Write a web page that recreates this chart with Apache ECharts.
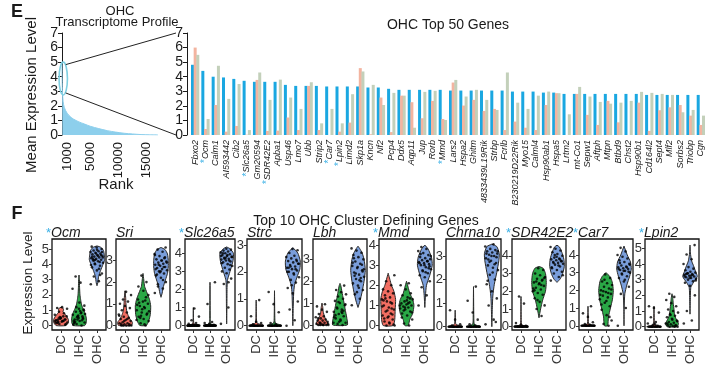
<!DOCTYPE html>
<html><head><meta charset="utf-8">
<script src="https://cdn.jsdelivr.net/npm/echarts@6/dist/echarts.min.js"></script>
<style>html,body{margin:0;padding:0;background:#fff}#c{width:708px;height:368px}</style>
</head><body><div id="c"></div>
<script>
// ---------- DATA ----------
// Panel E (left): OHC transcriptome profile (rank vs mean expression)
const rankX = [1, 10, 30, 60, 100, 200, 400, 900, 1500, 2000, 3000, 4000, 5000, 6500, 8000, 9500, 11000, 12500, 14000, 15500, 17000];
const rankY = [5.0, 4.3, 3.6, 3.1, 2.8, 2.3, 1.9, 1.5, 1.25, 1.1, 0.9, 0.75, 0.6, 0.44, 0.3, 0.2, 0.12, 0.07, 0.03, 0.01, 0.0];
const rankTicks = [1000, 5000, 10000, 15000];

// Panel E (right): OHC top 50 genes
const genes = ['Fbxo2','Ocm','Calm1','AI593442','Cib2','Slc26a5','Gm20594','SDR42E2','Apba1','Usp46',
  'Lmo7','Ubb','Strip2','Car7','Lpin2','Limd2','Skp1a','Kncn','Nf2','Pcp4',
  'Ddx5','Aqp11','Jup','Rorb','Mmd','Lars2','Hspa2','Ghitm','4833439L19Rik','Strbp',
  'Fcrlb','B230219D22Rik','Myo15','Calml4','Hsp90ab1','Hspa5','Lrtm2','mt-Co1','Sepw1','Aftph',
  'Mtpn','Btbd9','Chst2','Hsp90b1','Cd164l2','Sept4','Mlf2','Sorbs2','Triobp','Cgn'];
const starredGenes = ['Ocm','Slc26a5','SDR42E2','Car7','Lpin2','Mmd'];
const ohcMean = [4.82,4.4,4.0,3.95,3.85,3.72,3.65,3.65,3.65,3.44,
  3.37,3.37,3.37,3.33,3.33,3.33,3.33,3.26,3.26,3.17,
  3.1,3.1,3.1,3.1,3.1,3.05,3.05,3.05,3.05,3.05,
  3.05,2.98,2.98,2.98,2.91,2.91,2.82,2.82,2.82,2.82,
  2.82,2.82,2.82,2.82,2.75,2.75,2.75,2.75,2.75,2.75];
const dcMean = [6.0,0.41,2.06,0.23,0.62,0.02,3.78,0.28,0.3,1.2,
  0.34,3.37,0.34,0.0,0.23,0.85,4.59,0.05,2.57,0.2,
  2.7,2.25,1.15,2.34,1.1,3.6,2.02,2.41,1.65,1.79,
  0.34,0.92,0.5,0.34,2.06,2.87,0.0,2.82,1.38,0.69,
  2.34,0.87,0.0,2.22,0.28,1.7,1.9,2.06,1.33,0.69];
const ihcMean = [5.5,1.1,4.75,2.48,3.5,0.34,4.29,2.41,3.8,2.57,
  1.79,3.62,0.8,1.79,0.8,2.8,4.36,3.44,2.06,2.89,
  2.7,0.5,2.96,3.03,1.03,3.78,2.64,3.1,2.41,1.72,
  4.29,2.22,1.79,2.7,2.98,2.87,1.42,3.3,2.64,2.27,
  2.15,2.22,2.34,2.96,2.89,2.82,2.75,1.56,1.72,1.33];

// Panel F: top 10 OHC cluster defining genes
const groups = ['DC','IHC','OHC'];
const violinGenes = ['Ocm','Sri','Slc26a5','Strc','Lbh','Mmd','Chrna10','SDR42E2','Car7','Lpin2'];
const violinStarred = ['Ocm','Slc26a5','Mmd','SDR42E2','Car7','Lpin2'];
const violinYMin = [-0.29,-0.21,-0.24,-0.16,-0.23,-0.22,-0.14,-0.19,-0.24,-0.21];
const violinYMax = [5.65,3.99,4.79,3.22,3.93,4.3,3.72,4.95,4.9,5.59];

// violin outlines: [expression, relative half-width] for DC, IHC, OHC
const ocmShape = [
  [[0,0.6],[0.2,0.9],[0.4,0.9],[0.6,0.7],[0.8,0.4],[0.9,0.25],[1.0,0.3],[1.1,0.3],[1.2,0]],
  [[0,0.7],[0.2,0.9],[0.5,0.9],[0.8,0.75],[1.1,0.5],[1.4,0.3],[1.7,0.2],[2.0,0.12],[2.5,0.07],[3.0,0.05],[3.3,0]],
  [[2.6,0],[2.8,0.1],[3.2,0.2],[3.6,0.45],[4.0,0.75],[4.3,0.95],[4.6,0.9],[4.9,0.8],[5.1,0.5],[5.2,0]]];
const sriShape = [
  [[0,0.8],[0.15,0.9],[0.3,0.6],[0.5,0.35],[0.7,0.2],[1.0,0.12],[1.3,0.08],[1.6,0]],
  [[0,0.4],[0.2,0.7],[0.5,0.9],[0.9,0.95],[1.2,0.8],[1.5,0.5],[1.8,0.2],[2.1,0.1],[2.4,0]],
  [[1.3,0],[1.5,0.15],[1.8,0.3],[2.1,0.55],[2.4,0.8],[2.7,0.9],[3.0,0.9],[3.3,0.8],[3.5,0.5],[3.6,0]]];
const slc26a5Shape = [
  [[0,0.9],[0.04,0.6],[0.1,0.1],[0.3,0.03],[1.0,0]],
  [[0,0.9],[0.04,0.6],[0.1,0.1],[0.4,0.03],[2.4,0]],
  [[0.1,0],[1.0,0.03],[2.0,0.05],[2.5,0.1],[2.8,0.3],[3.2,0.6],[3.6,0.85],[4.0,0.9],[4.25,0.45],[4.35,0]]];
const strcShape = [
  [[0,0.9],[0.04,0.6],[0.1,0.1],[0.3,0.03],[0.95,0]],
  [[0,0.9],[0.04,0.6],[0.1,0.1],[0.3,0.04],[1.3,0]],
  [[0,0],[0.7,0.05],[1.2,0.1],[1.5,0.2],[1.8,0.5],[2.1,0.85],[2.4,0.9],[2.7,0.6],[2.9,0]]];
const lbhShape = [
  [[0,0.6],[0.1,0.7],[0.25,0.45],[0.4,0.3],[0.6,0.15],[0.8,0.1],[1.0,0]],
  [[0,0.9],[0.3,0.85],[0.6,0.7],[0.9,0.55],[1.2,0.4],[1.5,0.25],[1.8,0.1],[1.9,0]],
  [[0.8,0],[1.1,0.25],[1.5,0.5],[2.0,0.75],[2.5,0.9],[3.0,0.75],[3.3,0.5],[3.5,0.2],[3.6,0]]];
const mmdShape = [
  [[0,0.6],[0.3,0.8],[0.8,0.85],[1.3,0.9],[1.7,0.7],[2.0,0.4],[2.3,0.2],[2.6,0]],
  [[0,0.2],[0.3,0.4],[0.6,0.75],[1.0,0.9],[1.3,0.75],[1.6,0.4],[1.9,0.2],[2.2,0]],
  [[0.9,0],[1.5,0.08],[2.0,0.2],[2.5,0.6],[3.0,0.9],[3.4,0.8],[3.8,0.4],[4.0,0]]];
const chrna10Shape = [
  [[0,0.9],[0.04,0.6],[0.1,0.1],[0.3,0.03],[0.7,0]],
  [[0,0.9],[0.04,0.6],[0.1,0.1],[0.4,0.04],[1.7,0]],
  [[0,0],[0.8,0.06],[1.3,0.12],[1.8,0.3],[2.3,0.6],[2.8,0.85],[3.1,0.9],[3.4,0.6],[3.5,0]]];
const sdr42e2Shape = [
  [[0,0.9],[0.04,0.6],[0.1,0.1],[0.4,0.03],[1.7,0]],
  [[0.5,0],[1.0,0.2],[1.5,0.45],[2.0,0.8],[2.5,0.9],[3.0,0.8],[3.3,0.5],[3.4,0]],
  [[2.5,0],[2.7,0.4],[3.0,0.7],[3.4,0.9],[3.8,0.85],[4.2,0.6],[4.5,0.3],[4.6,0]]];
const car7Shape = [
  [[0,0.9],[0.04,0.6],[0.1,0.1],[0.4,0.03],[1.1,0]],
  [[0,0.2],[0.5,0.3],[1.0,0.55],[1.5,0.8],[2.0,0.9],[2.5,0.75],[2.8,0.45],[3.0,0]],
  [[0,0],[1.0,0.02],[1.8,0.1],[2.3,0.35],[2.8,0.7],[3.2,0.9],[3.6,0.8],[4.0,0.4],[4.5,0]]];
const lpin2Shape = [
  [[0,0.9],[0.04,0.6],[0.1,0.12],[0.4,0.04],[1.3,0]],
  [[0,0.6],[0.2,0.8],[0.5,0.5],[0.8,0.3],[1.1,0.25],[1.5,0.15],[1.8,0.1],[2.1,0]],
  [[0.8,0],[1.5,0.03],[2.5,0.1],[2.8,0.4],[3.2,0.9],[3.5,0.7],[3.8,0.5],[4.2,0.2],[4.7,0.05],[5.2,0]]];

// single-cell expression values (dots) for DC, IHC, OHC
const ocmDots = [
  [0.1,0.2,0.3,0.35,0.4,0.5,0.2,0.3,0.45,0.6,0.25,0.15,0.4,0.55,0.7,0.3,0.2,0.1,0.5,0.35,0.8,0.9,1.1,1.2,1.15,0.05,0.45,0.3,0.6,0.25],
  [0.0,0.1,0.2,0.3,0.4,0.5,0.6,0.7,0.8,0.9,1.0,1.1,0.15,0.35,0.55,0.75,0.95,0.25,0.45,0.65,0.05,0.85,1.2,1.3,1.5,0.2,0.6,0.4,2.4,2.8,3.2,1.05,0.5,0.3],
  [2.7,2.9,3.2,3.4,3.6,3.8,3.9,4.0,4.1,4.2,4.25,4.3,4.35,4.4,4.45,4.5,4.55,4.6,4.65,4.7,4.75,4.8,4.85,4.9,5.0,5.1,5.15,4.15,4.05,4.45,4.55,4.35,4.6,4.7,3.95,3.7,4.25,4.8,4.95,4.5,3.3,4.3]];
const sriDots = [
  [0,0,0,0,0.05,0.05,0.1,0.1,0.15,0.2,0.25,0.3,0.35,0.4,0.5,0.6,0.7,0.8,0.9,1.0,1.1,1.2,1.4,1.55,0.05,0.0,0.2,0.45,0.3],
  [0,0.1,0.2,0.3,0.4,0.5,0.6,0.7,0.8,0.9,1.0,1.1,1.2,1.3,0.45,0.65,0.85,1.05,0.55,0.75,0.95,1.15,0.35,1.4,1.6,1.8,2.0,2.3,0.25,0.05],
  [1.5,1.7,1.9,2.0,2.2,2.3,2.4,2.5,2.55,2.6,2.65,2.7,2.75,2.8,2.85,2.9,2.95,3.0,3.05,3.1,3.2,3.3,3.4,3.5,3.6,2.5,2.6,2.7,2.8,2.9,3.0,2.35,3.15,2.45,3.25,2.1,1.8]];
const slc26a5Dots = [
  [0,0,0,0,0,0,0,0,0,0,0,0,0,0,0,0,0,0,0.05,0.1,0.15,0.3,0.5,0.95,0,0,0,0],
  [0,0,0,0,0,0,0,0,0,0,0,0,0,0,0,0,0,0,0.05,0.1,0.15,0.2,1.2,2.4,0,0,0],
  [0.1,1.0,2.3,2.6,2.9,3.0,3.1,3.2,3.3,3.4,3.5,3.55,3.6,3.65,3.7,3.75,3.8,3.85,3.9,3.95,4.0,4.05,4.1,4.15,4.2,4.25,3.45,3.6,3.7,3.8,3.9,4.0,3.35,3.75,3.85,2.4]];
const strcDots = [
  [0,0,0,0,0,0,0,0,0,0,0,0,0,0,0,0,0.05,0.1,0.15,0.35,0.95,0,0,0],
  [0,0,0,0,0,0,0,0,0,0,0,0,0,0,0,0,0.05,0.1,0.5,0.8,1.25,0,0],
  [0,0.2,0.6,0.9,1.2,1.4,1.6,1.7,1.8,1.9,2.0,2.05,2.1,2.15,2.2,2.25,2.3,2.35,2.4,2.45,2.5,2.55,2.6,2.7,2.8,2.85,2.0,2.1,2.2,2.3,1.95,2.15,2.4,1.5]];
const lbhDots = [
  [0,0,0,0,0,0.05,0.05,0.1,0.1,0.15,0.2,0.2,0.25,0.3,0.35,0.4,0.5,0.6,0.7,0.85,0.95,0.1,0.05,0,0.3],
  [0,0.05,0.1,0.2,0.3,0.4,0.5,0.6,0.7,0.8,0.9,1.0,1.1,1.2,1.3,1.4,1.5,1.6,1.8,0.15,0.35,0.55,0.75,0.95,0.25,0.45,0.65,1.05,0.1,0.6],
  [0.9,1.2,1.4,1.6,1.8,1.9,2.0,2.1,2.2,2.3,2.4,2.5,2.6,2.7,2.8,2.9,3.0,3.1,3.2,3.3,3.4,3.5,2.05,2.25,2.45,2.65,2.85,2.15,2.35,2.55,1.7,3.05,2.75,1.5]];
const mmdDots = [
  [0,0,0.1,0.2,0.3,0.4,0.5,0.6,0.7,0.8,0.9,1.0,1.1,1.2,1.3,1.4,1.5,1.6,1.7,1.8,2.0,2.2,2.5,0.15,0.35,0.55,0.75,0.95,1.15,1.35,0.05,0.45,1.25,0.85],
  [0,0.1,0.3,0.5,0.6,0.7,0.8,0.85,0.9,0.95,1.0,1.05,1.1,1.15,1.2,1.3,1.4,1.5,1.6,1.8,2.0,2.1,0.75,0.65,1.25,0.4,1.35,0.9,1.0,1.1],
  [1.0,1.5,1.9,2.2,2.4,2.5,2.6,2.7,2.8,2.9,3.0,3.05,3.1,3.15,3.2,3.25,3.3,3.35,3.4,3.5,3.6,3.7,3.8,3.9,2.95,3.0,3.1,3.2,2.75,3.45,2.65,3.55,2.85]];
const chrna10Dots = [
  [0,0,0,0,0,0,0,0,0,0,0,0,0,0,0,0,0.05,0.1,0.3,0.7,0,0,0],
  [0,0,0,0,0,0,0,0,0,0,0,0,0,0,0,0,0.05,0.1,0.3,0.6,1.1,1.7,0,0],
  [0.1,0.3,0.9,1.2,1.5,1.8,2.0,2.2,2.4,2.5,2.6,2.7,2.8,2.9,3.0,3.05,3.1,3.15,3.2,3.25,3.3,3.4,3.5,2.85,2.95,3.0,3.1,2.65,2.75,3.2,2.3,1.95,0.2]];
const sdr42e2Dots = [
  [0,0,0,0,0,0,0,0,0,0,0,0,0,0,0,0,0,0.05,0.1,0.2,1.3,1.7,0,0],
  [0.6,1.0,1.2,1.4,1.6,1.8,1.9,2.0,2.1,2.2,2.3,2.4,2.5,2.6,2.7,2.8,2.9,3.0,3.2,3.3,2.15,2.35,2.55,2.75,2.45,2.05,2.65,1.5],
  [2.6,2.8,3.0,3.1,3.2,3.3,3.4,3.5,3.55,3.6,3.65,3.7,3.75,3.8,3.85,3.9,4.0,4.1,4.2,4.3,4.4,4.5,3.45,3.6,3.7,3.95,3.35,3.8,4.05,2.9]];
const car7Dots = [
  [0,0,0,0,0,0,0,0,0,0,0,0,0,0,0,0.05,0.1,0.2,0.5,0.7,1.1,0,0,0],
  [0,0.1,0.3,0.6,0.9,1.1,1.3,1.5,1.6,1.7,1.8,1.9,2.0,2.1,2.2,2.3,2.4,2.5,2.7,2.9,1.75,1.85,1.95,2.05,1.4,1.2,0.5,2.6],
  [0,1.0,1.8,2.2,2.5,2.7,2.8,2.9,3.0,3.1,3.15,3.2,3.25,3.3,3.35,3.4,3.5,3.6,3.7,3.8,3.9,4.0,4.2,4.4,3.05,3.1,3.2,3.3,2.95,3.45,2.6,3.55]];
const lpin2Dots = [
  [0,0,0,0,0,0,0,0,0,0,0,0,0.05,0.1,0.2,0.3,0.6,0.9,1.2,1.3,0,0,0,0.15],
  [0,0,0,0.05,0.1,0.1,0.15,0.2,0.25,0.3,0.4,0.5,0.6,0.7,0.8,0.9,1.0,1.1,1.3,1.5,1.7,1.9,2.1,0.35,0.45,0.2,0.05,0.75],
  [0.2,0.4,1.0,2.0,2.6,2.8,2.9,3.0,3.05,3.1,3.15,3.2,3.25,3.3,3.35,3.4,3.45,3.5,3.6,3.7,3.8,4.0,4.3,4.6,5.2,3.1,3.2,3.3,3.4,2.95,3.25,3.35]];

const violinShapes = [ocmShape, sriShape, slc26a5Shape, strcShape, lbhShape, mmdShape, chrna10Shape, sdr42e2Shape, car7Shape, lpin2Shape];
const violinDots = [ocmDots, sriDots, slc26a5Dots, strcDots, lbhDots, mmdDots, chrna10Dots, sdr42e2Dots, car7Dots, lpin2Dots];

// ---------- LAYOUT / STYLE ----------
const FONT = '"Liberation Sans", Arial, sans-serif';
const INK = '#1a1a1a';
const BLUE = '#1aa7e1', SALMON = '#f3b4a0', SAGE = '#bccbb2';
const VCOL = ['#f26e62', '#2aa846', '#7a9edb'];
const STAR = '#3ab0e6';
const boxLeft = [52, 116, 185, 247, 313, 379, 446, 512, 579, 645];
const boxRight = [106, 170, 235, 302, 367, 434, 501, 566, 633, 699];
const BOX_TOP = 239, BOX_H = 91;
const HALF = 0.45;

function jit(i) { return ((i * 0.6180339887 + 0.37) % 1 - 0.5) * 0.72; }

const grids = [
  { left: 62, top: 33, width: 96, height: 102 },
  { left: 190, top: 33, width: 516, height: 102 }
];
const xAxes = [
  { gridIndex: 0, type: 'value', min: 0, max: 17000, position: 'bottom',
    axisLine: { show: false, onZero: false }, axisTick: { show: false }, splitLine: { show: false },
    axisLabel: { customValues: rankTicks, formatter: v => String(v), rotate: 90, fontSize: 13, color: INK, fontFamily: FONT, margin: 7 } },
  { gridIndex: 1, type: 'category', data: genes, boundaryGap: true, position: 'bottom',
    axisLine: { show: false, onZero: false }, axisTick: { show: false },
    axisLabel: { interval: 0, rotate: 90, fontSize: 9, fontStyle: 'italic', color: INK, fontFamily: FONT, margin: 5,
      formatter: v => starredGenes.includes(v) ? '{s|*}' + v : v,
      rich: { s: { color: STAR, fontSize: 10, fontStyle: 'normal', fontFamily: FONT } } } }
];
const yAxisBase = {
  type: 'value', min: 0, max: 7, interval: 1, position: 'left',
  axisLine: { show: true, onZero: false, lineStyle: { color: INK, width: 1 } },
  axisTick: { show: true, length: 4, lineStyle: { color: INK } },
  splitLine: { show: false },
  axisLabel: { fontSize: 14, color: INK, fontFamily: FONT, margin: 4 }
};
const yAxes = [
  Object.assign({ gridIndex: 0 }, yAxisBase),
  Object.assign({ gridIndex: 1, offset: 3 }, yAxisBase)
];
const series = [
  { type: 'line', xAxisIndex: 0, yAxisIndex: 0, data: rankX.map((x, i) => [x, rankY[i]]),
    showSymbol: false, smooth: 0.3, lineStyle: { color: '#8dcfec', width: 1 },
    areaStyle: { color: '#8dcfec', opacity: 1 }, silent: true },
  { type: 'bar', xAxisIndex: 1, yAxisIndex: 1, name: 'OHC', data: ohcMean, barWidth: 3, barGap: '-12%', itemStyle: { color: BLUE }, silent: true },
  { type: 'bar', xAxisIndex: 1, yAxisIndex: 1, name: 'DC', data: dcMean, barWidth: 3, barGap: '-12%', itemStyle: { color: SALMON }, silent: true },
  { type: 'bar', xAxisIndex: 1, yAxisIndex: 1, name: 'IHC', data: ihcMean, barWidth: 3, barGap: '-12%', itemStyle: { color: SAGE, opacity: 0.9 }, silent: true }
];

violinGenes.forEach((g, p) => {
  const gi = 2 + p;
  const xv = xAxes.length;      // hidden value axis carrying the marks
  grids.push({ left: boxLeft[p], top: BOX_TOP, width: boxRight[p] - boxLeft[p], height: BOX_H,
    show: true, borderColor: '#111', borderWidth: 1.3, backgroundColor: 'transparent' });
  xAxes.push({ gridIndex: gi, type: 'value', min: -0.5, max: 2.5, show: false, position: 'top',
    axisLine: { show: false, onZero: false } });
  xAxes.push({ gridIndex: gi, type: 'category', data: groups, boundaryGap: true, position: 'bottom',
    axisLine: { show: false, onZero: false }, splitLine: { show: false },
    axisTick: { show: true, alignWithLabel: true, length: 3, lineStyle: { color: '#333' } },
    axisLabel: { interval: 0, rotate: 90, fontSize: 13, color: '#333', fontFamily: FONT, margin: 5 } });
  yAxes.push({ gridIndex: gi, type: 'value', min: violinYMin[p], max: violinYMax[p], minInterval: 1, maxInterval: 1, position: 'left',
    axisLine: { show: false, onZero: false }, splitLine: { show: false },
    axisTick: { show: true, length: 3, lineStyle: { color: '#333' } },
    axisLabel: { showMinLabel: false, showMaxLabel: false, fontSize: 13, color: '#333', fontFamily: FONT, margin: 3 } });
  const shapes = violinShapes[p];
  series.push({
    type: 'custom', xAxisIndex: xv, yAxisIndex: gi, silent: true, z: 2,
    data: [[0, 0], [1, 0], [2, 0]],
    renderItem: function (params, api) {
      const c = api.value(0);
      const sh = shapes[c];
      const right = [], left = [];
      sh.forEach(function (pt) {
        right.push(api.coord([c + pt[1] * HALF, pt[0]]));
        left.unshift(api.coord([c - pt[1] * HALF, pt[0]]));
      });
      return { type: 'polygon', shape: { points: right.concat(left), smooth: 0.2 },
        style: { fill: VCOL[c], stroke: '#2a2a2a', lineWidth: 1 } };
    }
  });
  const dots = [];
  violinDots[p].forEach((arr, c) => arr.forEach((y, i) => dots.push([c + jit(i + c * 7), y])));
  series.push({ type: 'scatter', xAxisIndex: xv, yAxisIndex: gi, data: dots, symbolSize: 2.6,
    itemStyle: { color: '#000' }, silent: true, z: 3 });
});

function txt(x, y, text, size, opts) {
  return Object.assign({ type: 'text', x: x, y: y, silent: true,
    style: Object.assign({ text: text, fill: INK, font: size + 'px ' + FONT, align: 'center', verticalAlign: 'middle' }, (opts && opts.style) || {}) },
    (opts && opts.el) || {});
}
const graphics = [
  txt(17, 12, 'E', 18, { style: { font: 'bold 18px ' + FONT } }),
  txt(120, 11, 'OHC', 13),
  txt(117, 22, 'Transcriptome Profile', 13),
  txt(32, 95, 'Mean Expression Level', 15, { el: { rotation: Math.PI / 2 } }),
  txt(116, 185, 'Rank', 15),
  txt(448, 25, 'OHC Top 50 Genes', 14),
  txt(17, 214, 'F', 18, { style: { font: 'bold 18px ' + FONT } }),
  txt(366, 221, 'Top 10 OHC Cluster Defining Genes', 14),
  txt(28, 283, 'Expression Level', 13.5, { el: { rotation: Math.PI / 2 } })
];
violinGenes.forEach((g, p) => {
  const starred = violinStarred.includes(g);
  graphics.push({ type: 'text', x: boxLeft[p] - (starred ? 6 : 0), y: 233, silent: true,
    style: { text: (starred ? '{s|*}' : '') + '{g|' + g + '}', align: 'left', verticalAlign: 'middle',
      rich: { s: { fill: STAR, font: '13px ' + FONT }, g: { fill: INK, font: 'italic 14px ' + FONT } } } });
});

const chart = echarts.init(document.getElementById('c'));
chart.setOption({
  animation: false,
  backgroundColor: '#fff',
  textStyle: { fontFamily: FONT },
  grid: grids.map(g => Object.assign({ outerBoundsMode: 'none' }, g)),
  xAxis: xAxes, yAxis: yAxes, series: series, graphic: graphics
});

// highlight ellipse around the top ranks and zoom lines to the top-50 bar chart
const eTop = chart.convertToPixel({ gridIndex: 0 }, [220, 5.0]);
const eBot = chart.convertToPixel({ gridIndex: 0 }, [220, 2.75]);
const rTop = chart.convertToPixel({ gridIndex: 1 }, [0, 7]);
const rBot = chart.convertToPixel({ gridIndex: 1 }, [0, 0]);
const cx = eTop[0], cy = (eTop[1] + eBot[1]) / 2, ry = (eBot[1] - eTop[1]) / 2, rx = 4.2;
const lineX = 176;
graphics.push(
  { type: 'ellipse', silent: true, shape: { cx: cx, cy: cy, rx: rx, ry: ry }, style: { fill: 'none', stroke: '#7fd0e2', lineWidth: 1.6 }, z: 10 },
  { type: 'line', silent: true, shape: { x1: cx + 2.5, y1: cy - ry * 0.85, x2: lineX, y2: rTop[1] }, style: { stroke: '#222', lineWidth: 1 }, z: 10 },
  { type: 'line', silent: true, shape: { x1: cx + 2.5, y1: cy + ry * 0.88, x2: lineX, y2: rBot[1] }, style: { stroke: '#222', lineWidth: 1 }, z: 10 }
);
chart.setOption({ graphic: graphics });
</script>
</body></html>
